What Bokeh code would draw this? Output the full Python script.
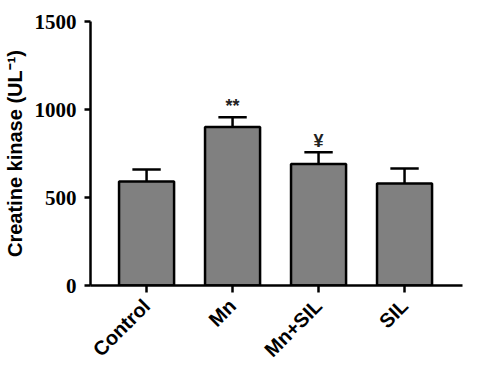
from bokeh.plotting import figure
from bokeh.models import Range1d, FixedTicker, ColumnDataSource
from bokeh.core.properties import value
from bokeh.embed import file_html
from bokeh.resources import INLINE
import math

categories = ["Control", "Mn", "Mn+SIL", "SIL"]
means = [591, 900, 691, 580]
sems = [68, 56, 66, 85]
marks = ["", "**", "¥", ""]
y_ticks = [0, 500, 1000, 1500]

idx = list(range(len(categories)))
err_top = [m + s for m, s in zip(means, sems)]
cap_half = 0.165

src = ColumnDataSource(dict(
    x=idx, top=means, et=err_top,
    cx0=[i - cap_half for i in idx], cx1=[i + cap_half for i in idx],
    mark=marks,
))

p = figure(width=464, height=376, output_backend="svg", toolbar_location=None,
           x_range=Range1d(-0.652, 3.674), y_range=Range1d(0, 1500),
           min_border_left=77, min_border_right=2, min_border_top=21,
           min_border_bottom=91)
p.outline_line_color = None
p.xgrid.visible = False
p.ygrid.visible = False
p.background_fill_color = "white"
p.border_fill_color = "white"

# error bars (behind bars)
p.segment(x0="x", y0="top", x1="x", y1="et", source=src, line_color="black", line_width=2.5)
p.segment(x0="cx0", y0="et", x1="cx1", y1="et", source=src, line_color="black", line_width=2.5)

p.vbar(x="x", top="top", bottom=0, width=0.64, source=src,
       fill_color="#808080", line_color="black", line_width=2.5)

p.text(x="x", y="et", text="mark", source=src, text_align="center",
       text_baseline="bottom", y_offset=-1, text_font=value("Liberation Sans"),
       text_font_style="bold", text_font_size="18px", text_color="#222222")

for ax in (p.xaxis[0], p.yaxis[0]):
    ax.axis_line_width = 2.5
    ax.axis_line_color = "black"
    ax.major_tick_line_width = 2.5
    ax.major_tick_line_color = "black"
    ax.minor_tick_line_color = None
    ax.major_tick_in = 0
    ax.major_label_text_color = "black"
    ax.axis_label_text_color = "black"

p.yaxis.ticker = FixedTicker(ticks=y_ticks)
p.yaxis.major_tick_out = 6
p.yaxis.major_label_text_font = "Liberation Sans Narrow"
p.yaxis.major_label_text_font_style = "bold"
p.yaxis.major_label_text_font_size = "21px"
p.yaxis.major_label_standoff = 8
p.yaxis.axis_label = "Creatine kinase (UL⁻¹)"
p.yaxis.axis_label_text_font = "Liberation Sans"
p.yaxis.axis_label_text_font_style = "bold"
p.yaxis.axis_label_text_font_size = "20px"
p.yaxis.axis_label_standoff = 6

p.xaxis.ticker = FixedTicker(ticks=idx)
p.xaxis.major_label_overrides = {i: c for i, c in zip(idx, categories)}
p.xaxis.major_tick_out = 7
p.xaxis.major_label_orientation = math.pi / 4
p.xaxis.major_label_text_font = "Liberation Sans"
p.xaxis.major_label_text_font_style = "bold"
p.xaxis.major_label_text_font_size = "20px"
p.xaxis.major_label_standoff = 10

open("out.html", "w").write(file_html(p, INLINE))
